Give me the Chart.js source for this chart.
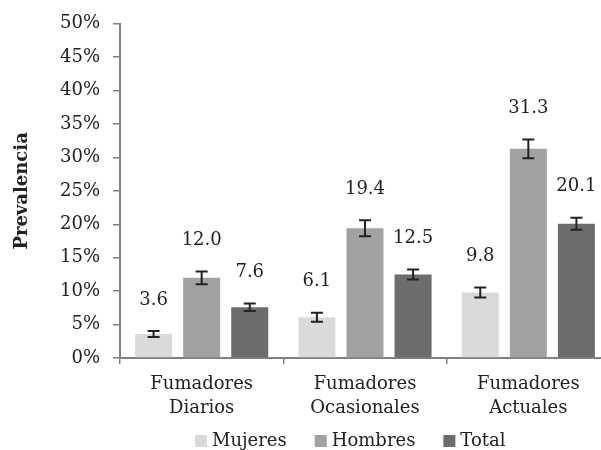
<!DOCTYPE html>
<html>
<head>
<meta charset="utf-8">
<script src="https://cdn.jsdelivr.net/npm/chart.js@4/dist/chart.umd.min.js"></script>
<style>
html,body{margin:0;padding:0;background:#fff;overflow:hidden;}
#wrap{width:610px;height:450px;position:relative;}
</style>
</head>
<body>
<div id="wrap"><canvas id="c"></canvas></div>
<script>
const categories = [['Fumadores','Diarios'],['Fumadores','Ocasionales'],['Fumadores','Actuales']];
const seriesNames = ['Mujeres','Hombres','Total'];
const mujeres = [3.6, 6.1, 9.8];
const hombres = [12.0, 19.4, 31.3];
const total = [7.6, 12.5, 20.1];
const errMujeres = [0.45, 0.67, 0.75];
const errHombres = [0.95, 1.2, 1.4];
const errTotal = [0.57, 0.75, 0.9];
const yTicks = [0,5,10,15,20,25,30,35,40,45,50];

const FONT = '"DejaVu Serif", serif';
const TEXT = '#222';
const colors = ['#dadada','#a2a2a2','#6d6d6d'];
const errs = [errMujeres, errHombres, errTotal];

const errorBarPlugin = {
  id: 'errbars',
  afterDatasetsDraw(chart) {
    const ctx = chart.ctx;
    const y = chart.scales.y;
    ctx.save();
    chart.data.datasets.forEach((ds, i) => {
      const meta = chart.getDatasetMeta(i);
      meta.data.forEach((bar, j) => {
        const v = ds.data[j], e = errs[i][j];
        const yt = y.getPixelForValue(v + e), yb = y.getPixelForValue(v - e);
        ctx.strokeStyle = '#222';
        ctx.lineWidth = 2;
        ctx.beginPath();
        ctx.moveTo(bar.x, yt); ctx.lineTo(bar.x, yb);
        ctx.moveTo(bar.x - 6, yt); ctx.lineTo(bar.x + 6, yt);
        ctx.moveTo(bar.x - 6, yb); ctx.lineTo(bar.x + 6, yb);
        ctx.stroke();
        ctx.fillStyle = TEXT;
        ctx.font = '18px ' + FONT;
        ctx.textAlign = 'center';
        ctx.textBaseline = 'middle';
        ctx.fillText(v.toFixed(1), bar.x, yt - 31);
      });
    });
    ctx.restore();
  }
};

const legendPlugin = {
  id: 'customLegend',
  afterDraw(chart) {
    const ctx = chart.ctx;
    ctx.save();
    ctx.font = '18px ' + FONT;
    ctx.textBaseline = 'middle';
    ctx.textAlign = 'left';
    let x = 195;
    const yc = 441;
    chart.data.datasets.forEach((ds) => {
      ctx.fillStyle = ds.backgroundColor;
      ctx.fillRect(x, yc - 6, 12, 12);
      ctx.fillStyle = TEXT;
      ctx.fillText(ds.label, x + 17, yc);
      x += 17 + ctx.measureText(ds.label).width + 28;
    });
    ctx.restore();
  }
};

const ds = [mujeres, hombres, total].map((d, i) => ({
  label: seriesNames[i],
  data: d,
  backgroundColor: colors[i],
  borderWidth: 0,
  barPercentage: 0.77,
  categoryPercentage: 0.883
}));

new Chart(document.getElementById('c'), {
  type: 'bar',
  data: { labels: categories, datasets: ds },
  options: {
    responsive: true,
    maintainAspectRatio: false,
    animation: false,
    layout: { padding: { top: 23, right: 0, bottom: 0, left: 0 } },
    plugins: { legend: { display: false }, tooltip: { enabled: false } },
    scales: {
      x: {
        offset: true,
        grid: { offset: true, drawOnChartArea: false, drawTicks: true, tickLength: 6, color: '#808080', lineWidth: 1.5 },
        border: { color: '#808080', width: 2 },
        ticks: { color: TEXT, padding: 8, font: { family: FONT, size: 18, lineHeight: 1.35 }, maxRotation: 0, autoSkip: false },
        afterFit(s) { s.height = 92; }
      },
      y: {
        min: 0, max: 50,
        afterBuildTicks(s) { s.ticks = yTicks.map(v => ({ value: v })); },
        grid: { drawOnChartArea: false, drawTicks: true, tickLength: 7, color: '#808080', lineWidth: 1.5 },
        border: { color: '#808080', width: 2 },
        ticks: { color: TEXT, padding: 13, font: { family: FONT, size: 18 }, callback: v => v + '%' },
        title: { display: true, text: 'Prevalencia', color: TEXT, font: { family: FONT, size: 18, weight: 'bold' }, padding: { top: 12, bottom: 0 } },
        afterFit(s) { s.width = 120; }
      }
    }
  },
  plugins: [errorBarPlugin, legendPlugin]
});
</script>
</body>
</html>
